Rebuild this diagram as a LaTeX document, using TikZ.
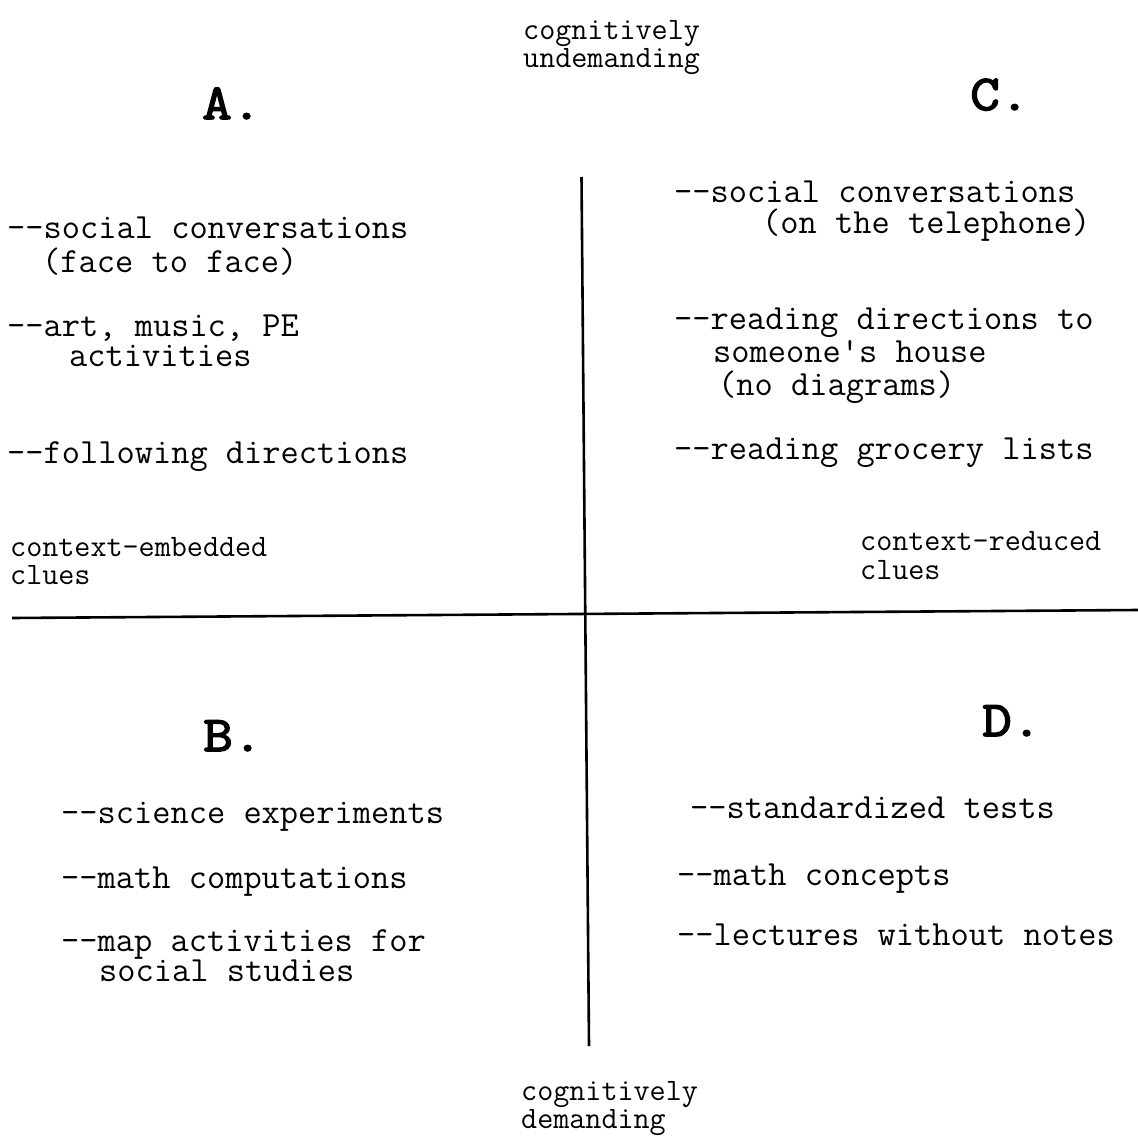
\documentclass[tikz,border=0pt]{standalone}
\usepackage{fontspec}
\newfontfamily\quadfont{Latin Modern Mono}[FakeBold=3,FakeStretch=1.15]
\usetikzlibrary{positioning}

\begin{document}
\begin{tikzpicture}[
  x=1pt,y=-1pt,
  item/.style={anchor=base west,inner sep=0pt,font=\ttfamily\fontsize{35.4}{38}\selectfont},
  note/.style={anchor=base west,inner sep=0pt,font=\ttfamily\fontsize{31.2}{33}\selectfont},
  quad/.style={anchor=base west,inner sep=0pt,font=\quadfont\fontsize{50}{52}\selectfont},
  axis/.style={line width=2.6pt}
]
  \useasboundingbox (0,0) rectangle (1138,1137);
  % axes
  \coordinate (top) at (581.5,177);
  \coordinate (bot) at (589,1046);
  \coordinate (lft) at (12,618);
  \coordinate (rgt) at (1138,610);
  \draw[axis] (top)--(bot);
  \draw[axis] (lft)--(rgt);
  % axis labels
  \node[note] (undem1) at (523,40) {cognitively};
  \node[note] (undem2) at (523,68) {undemanding};
  \node[note] (dem1) at (521,1100) {cognitively};
  \node[note] (dem2) at (521,1128) {demanding};
  \node[note] (embed1) at (10,556) {context-embedded};
  \node[note] (embed2) at (10,584) {clues};
  \node[note] (reduc1) at (860,550) {context-reduced};
  \node[note] (reduc2) at (860,579) {clues};
  % quadrant A
  \node[quad] (qa) at (202,119) {A.};
  \node[item] (a1) at (7,238) {--social conversations};
  \node[item] (a1b) at (42,272) {(face to face)};
  \node[item] (a2) at (7,336) {--art, music, PE};
  \node[item] (a2b) at (69,366) {activities};
  \node[item] (a3) at (7,463) {--following directions};
  % quadrant C
  \node[quad] (qc) at (970,110) {C.};
  \node[item] (c1) at (674,202) {--social conversations};
  \node[item] (c1b) at (762,233) {(on the telephone)};
  \node[item] (c2) at (674,329) {--reading directions to};
  \node[item] (c2b) at (713,362) {someone's house};
  \node[item] (c2c) at (718,395) {(no diagrams)};
  \node[item] (c3) at (674,459) {--reading grocery lists};
  % quadrant B
  \node[quad] (qb) at (203,751) {B.};
  \node[item] (b1) at (61,823) {--science experiments};
  \node[item] (b2) at (61,888) {--math computations};
  \node[item] (b3) at (61,951) {--map activities for};
  \node[item] (b3b) at (99,981) {social studies};
  % quadrant D
  \node[quad] (qd) at (982,736) {D.};
  \node[item] (d1) at (690,818) {--standardized tests};
  \node[item] (d2) at (677,885) {--math concepts};
  \node[item] (d3) at (677,945) {--lectures without notes};
\end{tikzpicture}
\end{document}
